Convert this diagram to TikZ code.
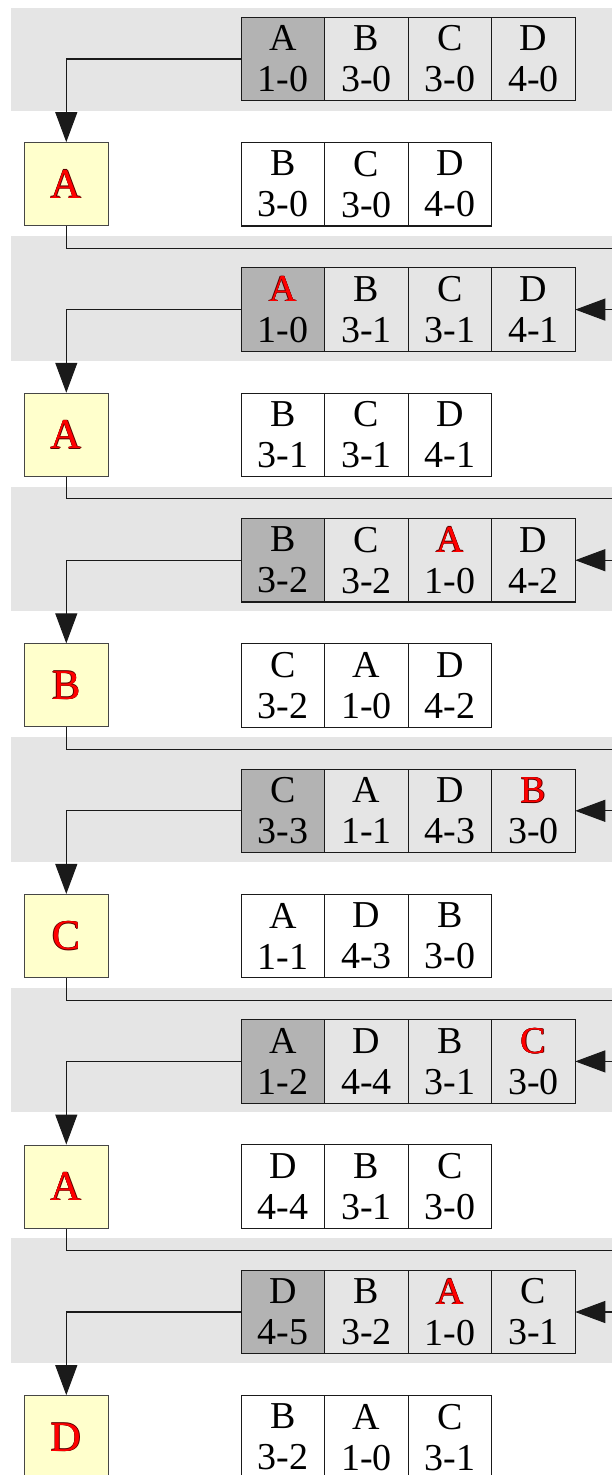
\documentclass[tikz,border=0pt]{standalone}
\usepackage{fontspec}
\setmainfont{Liberation Serif}
\usetikzlibrary{arrows.meta,positioning,calc}
\definecolor{bandgray}{HTML}{E5E5E5}
\definecolor{headgray}{HTML}{B3B3B3}
\definecolor{popyellow}{HTML}{FFFFCC}
\definecolor{popred}{HTML}{FF0000}
\definecolor{popedge}{HTML}{5A0000}
\definecolor{inkline}{HTML}{1A1A1A}
\tikzset{
  cell/.style={rectangle,draw=inkline,line width=1.1pt,minimum width=83.5pt,minimum height=83.5pt,
    inner sep=0pt,outer sep=0pt,align=center,font=\fontsize{38}{41}\selectfont},
  headcell/.style={cell,fill=headgray},
  restcell/.style={cell,fill=white},
  popbox/.style={rectangle,draw=gray!55!black,line width=1.1pt,fill=popyellow,
    minimum width=84pt,minimum height=83pt,inner sep=0pt,font=\fontsize{42.5}{44}\selectfont},
  band/.style={fill=bandgray},
  flow/.style={-{Triangle[length=30pt,width=22pt]},draw=inkline,line width=1.1pt},
}
% red letter with a thin dark rim
\newcommand\popmark[1]{%
  \rlap{\kern0.3pt\textcolor{popedge}{#1}}%
  \rlap{\kern-0.3pt\textcolor{popedge}{#1}}%
  \rlap{\raisebox{0.3pt}{\textcolor{popedge}{#1}}}%
  \rlap{\raisebox{-0.3pt}{\textcolor{popedge}{#1}}}%
  \textcolor{popred}{#1}}

\begin{document}
\begin{tikzpicture}[x=1pt,y=-1pt]
  \useasboundingbox (0,0) rectangle (612,1475);
  \clip (0,0) rectangle (612,1475);
  % queue bands
  \fill[band] (11,8) rectangle (640,111);
  \foreach \k in {1,...,5}
    \fill[band] (11,{59+\k*250.6-73.6}) rectangle (640,{59+\k*250.6+51});
  % one row per step: queue, popped item, what is left
  \foreach \k/\qa/\qb/\qc/\qd/\pop/\ra/\rb/\rc in {
    0/{A\\1-0}/{B\\3-0}/{C\\3-0}/{D\\4-0}/A/{B\\3-0}/{C\\3-0}/{D\\4-0},
    1/{\popmark{A}\\1-0}/{B\\3-1}/{C\\3-1}/{D\\4-1}/A/{B\\3-1}/{C\\3-1}/{D\\4-1},
    2/{B\\3-2}/{C\\3-2}/{\popmark{A}\\1-0}/{D\\4-2}/B/{C\\3-2}/{A\\1-0}/{D\\4-2},
    3/{C\\3-3}/{A\\1-1}/{D\\4-3}/{\popmark{B}\\3-0}/C/{A\\1-1}/{D\\4-3}/{B\\3-0},
    4/{A\\1-2}/{D\\4-4}/{B\\3-1}/{\popmark{C}\\3-0}/A/{D\\4-4}/{B\\3-1}/{C\\3-0},
    5/{D\\4-5}/{B\\3-2}/{\popmark{A}\\1-0}/{C\\3-1}/D/{B\\3-2}/{A\\1-0}/{C\\3-1}} {
    \node[headcell] (q\k a) at (283,{59+\k*250.6}) {\qa};
    \node[cell,right=0pt of q\k a] (q\k b) {\qb};
    \node[cell,right=0pt of q\k b] (q\k c) {\qc};
    \node[cell,right=0pt of q\k c] (q\k d) {\qd};
    \node[popbox] (pop\k) at (66.3,{184.2+\k*250.6}) {\popmark{\pop}};
    \node[restcell] (r\k a) at (283,{184.2+\k*250.6}) {\ra};
    \node[restcell,right=0pt of r\k a] (r\k b) {\rb};
    \node[restcell,right=0pt of r\k b] (r\k c) {\rc};
    \draw[flow] (q\k a.west) -| (pop\k.north);
  }
  % popped item goes back into the next queue
  \foreach \k in {0,...,4} {
    \pgfmathtruncatemacro\n{\k+1}
    \draw[flow] (pop\k.south) -- ++(0,22) -| ($(q\n d.east)+(70pt,0)$) -- (q\n d.east);
  }
\end{tikzpicture}
\end{document}
